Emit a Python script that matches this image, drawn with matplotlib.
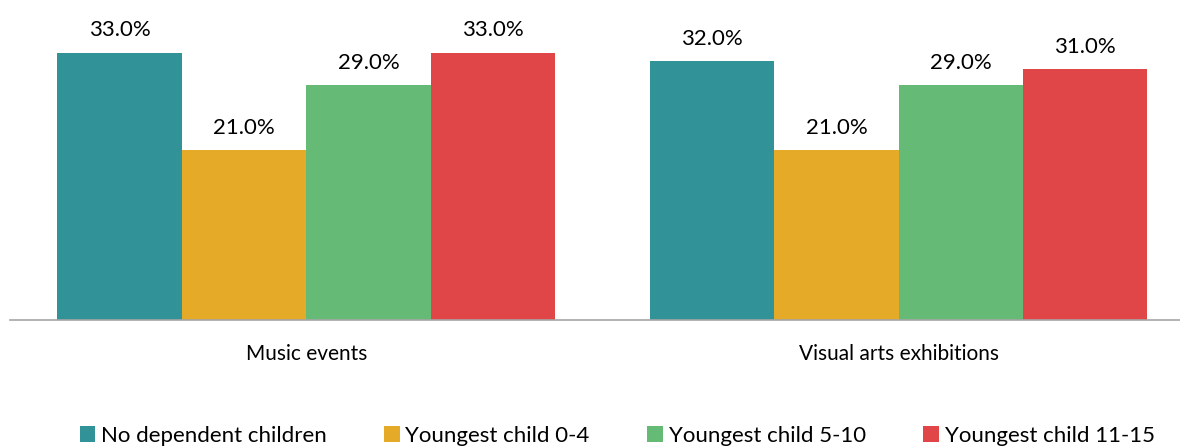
import matplotlib
matplotlib.use("Agg")
import matplotlib.pyplot as plt
from matplotlib.patches import Patch
import numpy as np

categories = ["Music events", "Visual arts exhibitions"]
series = ["No dependent children", "Youngest child 0-4", "Youngest child 5-10", "Youngest child 11-15"]
no_children = [33.0, 32.0]
child_0_4 = [21.0, 21.0]
child_5_10 = [29.0, 29.0]
child_11_15 = [33.0, 31.0]
colors = ["#319397", "#E5AA27", "#65BB75", "#E04648"]

plt.rcParams["font.family"] = ["Lato", "DejaVu Sans"]

W, H = 1180, 447
fig = plt.figure(figsize=(W / 100, H / 100), dpi=100)
ax = fig.add_axes([10 / W, (H - 320) / H, (W - 10) / W, 320 / H])

x = np.arange(len(categories))
width = 0.21
values = [no_children, child_0_4, child_5_10, child_11_15]
for i, (vals, col) in enumerate(zip(values, colors)):
    pos = x + (i - 1.5) * width
    ax.bar(pos, vals, width=width, color=col, linewidth=0)
    for p, v in zip(pos, vals):
        ax.annotate(f"{v:.1f}%", (p, v), xytext=(0, 9), textcoords="offset points",
                    ha="center", va="bottom", fontsize=16, color="#000000")

ax.set_xlim(-0.5, 1.475)
ax.set_ylim(0, 39.55)
for s in ["top", "right", "left"]:
    ax.spines[s].set_visible(False)
ax.spines["bottom"].set_color("#A6A6A6")
ax.spines["bottom"].set_linewidth(1.2)
ax.set_yticks([])
ax.set_xticks(x)
ax.set_xticklabels(categories, fontsize=15)
ax.tick_params(axis="x", length=0, pad=17)

handles = [Patch(facecolor=c, edgecolor="none") for c in colors]
fig.legend(handles, series, loc="center", bbox_to_anchor=(0.523, 1 - 436 / H), ncol=4,
           frameon=False, fontsize=16, handlelength=0.7, handleheight=0.7,
           handletextpad=0.25, columnspacing=2.6)

fig.savefig("out.png", dpi=100)
